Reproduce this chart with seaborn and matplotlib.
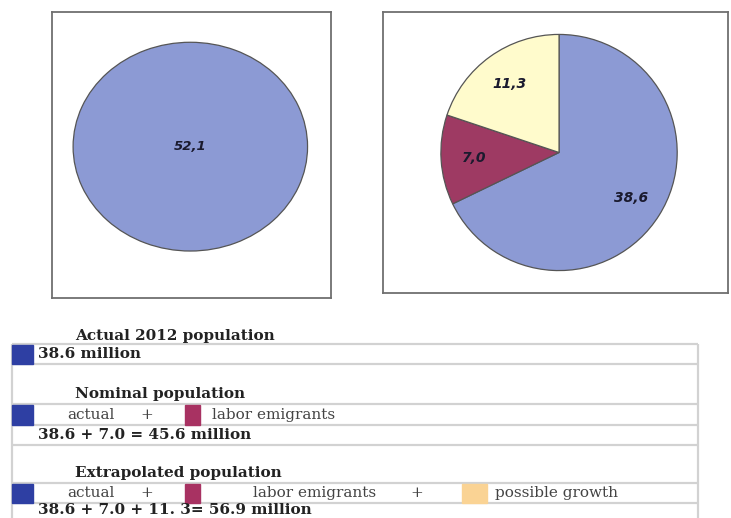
import matplotlib
matplotlib.use("Agg")
import matplotlib.pyplot as plt
import seaborn as sns
from matplotlib.patches import Rectangle

sns.set_theme(style="white")

# total population (left pie) and its breakdown (right pie)
total_value = [52.1]
total_label = ["52,1"]

parts = [38.6, 7.0, 11.3]
part_labels = ["38,6", "7,0", "11,3"]
part_colors = ["#8C9AD4", "#9E3A63", "#FFFBCC"]

# legend block underneath
square_colors = {"actual": "#2E3FA3", "labor": "#A83262", "growth": "#FAD394"}
headings = ["Actual 2012 population", "Nominal population", "Extrapolated population"]
totals = ["38.6 million", "38.6 + 7.0 = 45.6 million", "38.6 + 7.0 + 11. 3= 56.9 million"]

W, H = 731, 518
fig = plt.figure(figsize=(W / 100, H / 100), dpi=100)


def px_axes(x0, y0, x1, y1):
    return fig.add_axes([x0 / W, 1 - y1 / H, (x1 - x0) / W, (y1 - y0) / H])


def box(ax):
    ax.set_frame_on(True)
    ax.set_xticks([])
    ax.set_yticks([])
    for s in ax.spines.values():
        s.set_visible(True)
        s.set_color("#6f6f6f")
        s.set_linewidth(1.3)


# left pie: single slice, drawn as an ellipse
ax1 = px_axes(52, 12, 331, 298)
ax1.pie(total_value, colors=[part_colors[0]], labels=total_label, labeldistance=0,
        wedgeprops=dict(edgecolor="#555555", linewidth=0.9),
        textprops=dict(fontsize=9.5, fontweight="bold", fontstyle="italic",
                       color="#1a1a2e", family="DejaVu Sans"))
for t in ax1.texts:
    t.set_ha("center")
ax1.set_aspect("auto")
ax1.set_xlim(-1.18, 1.20)
ax1.set_ylim(-1.45, 1.29)
box(ax1)

# right pie
ax2 = px_axes(383, 12, 728, 293)
ax2.pie(parts, colors=part_colors, labels=part_labels, labeldistance=0.72,
        startangle=90, counterclock=False,
        wedgeprops=dict(edgecolor="#555555", linewidth=0.9),
        textprops=dict(fontsize=10, fontweight="bold", fontstyle="italic",
                       color="#1a1a2e", family="DejaVu Sans"))
for t in ax2.texts:
    t.set_ha("center")
ax2.set_aspect("auto")
ax2.set_xlim(-1.49, 1.43)
ax2.set_ylim(-1.19, 1.19)
box(ax2)

# legend / table area in pixel coordinates
ax3 = fig.add_axes([0, 0, 1, 1], zorder=-1)
ax3.set_xlim(0, W)
ax3.set_ylim(H, 0)
ax3.axis("off")

line_c = "#d2d2d2"
ax3.hlines([344, 364, 404, 425, 445, 483, 503], 12, 698, color=line_c, lw=1.6)
ax3.vlines([12, 698], 344, H, color=line_c, lw=1.6)


def square(x, y, w, h, c):
    ax3.add_patch(Rectangle((x, y), w, h, color=c, zorder=3))


square(12, 345, 21, 19, square_colors["actual"])
square(12, 405, 21, 20, square_colors["actual"])
square(185, 405, 15, 20, square_colors["labor"])
square(12, 484, 21, 19, square_colors["actual"])
square(185, 484, 15, 19, square_colors["labor"])
square(462, 484, 25, 19, square_colors["growth"])

bold = dict(family="DejaVu Serif", fontweight="bold", fontsize=11, color="#222222", va="center")
norm = dict(family="DejaVu Serif", fontsize=11, color="#444444", va="center")

ax3.text(75, 336, headings[0], **bold)
ax3.text(38, 354, totals[0], **bold)
ax3.text(75, 394, headings[1], **bold)
ax3.text(67, 415, "actual", **norm)
ax3.text(140, 415, "+", **norm)
ax3.text(212, 415, "labor emigrants", **norm)
ax3.text(38, 435, totals[1], **bold)
ax3.text(75, 473, headings[2], **bold)
ax3.text(67, 493, "actual", **norm)
ax3.text(140, 493, "+", **norm)
ax3.text(253, 493, "labor emigrants", **norm)
ax3.text(410, 493, "+", **norm)
ax3.text(495, 493, "possible growth", **norm)
ax3.text(38, 510, totals[2], **bold)

fig.savefig("out.png", dpi=100)
